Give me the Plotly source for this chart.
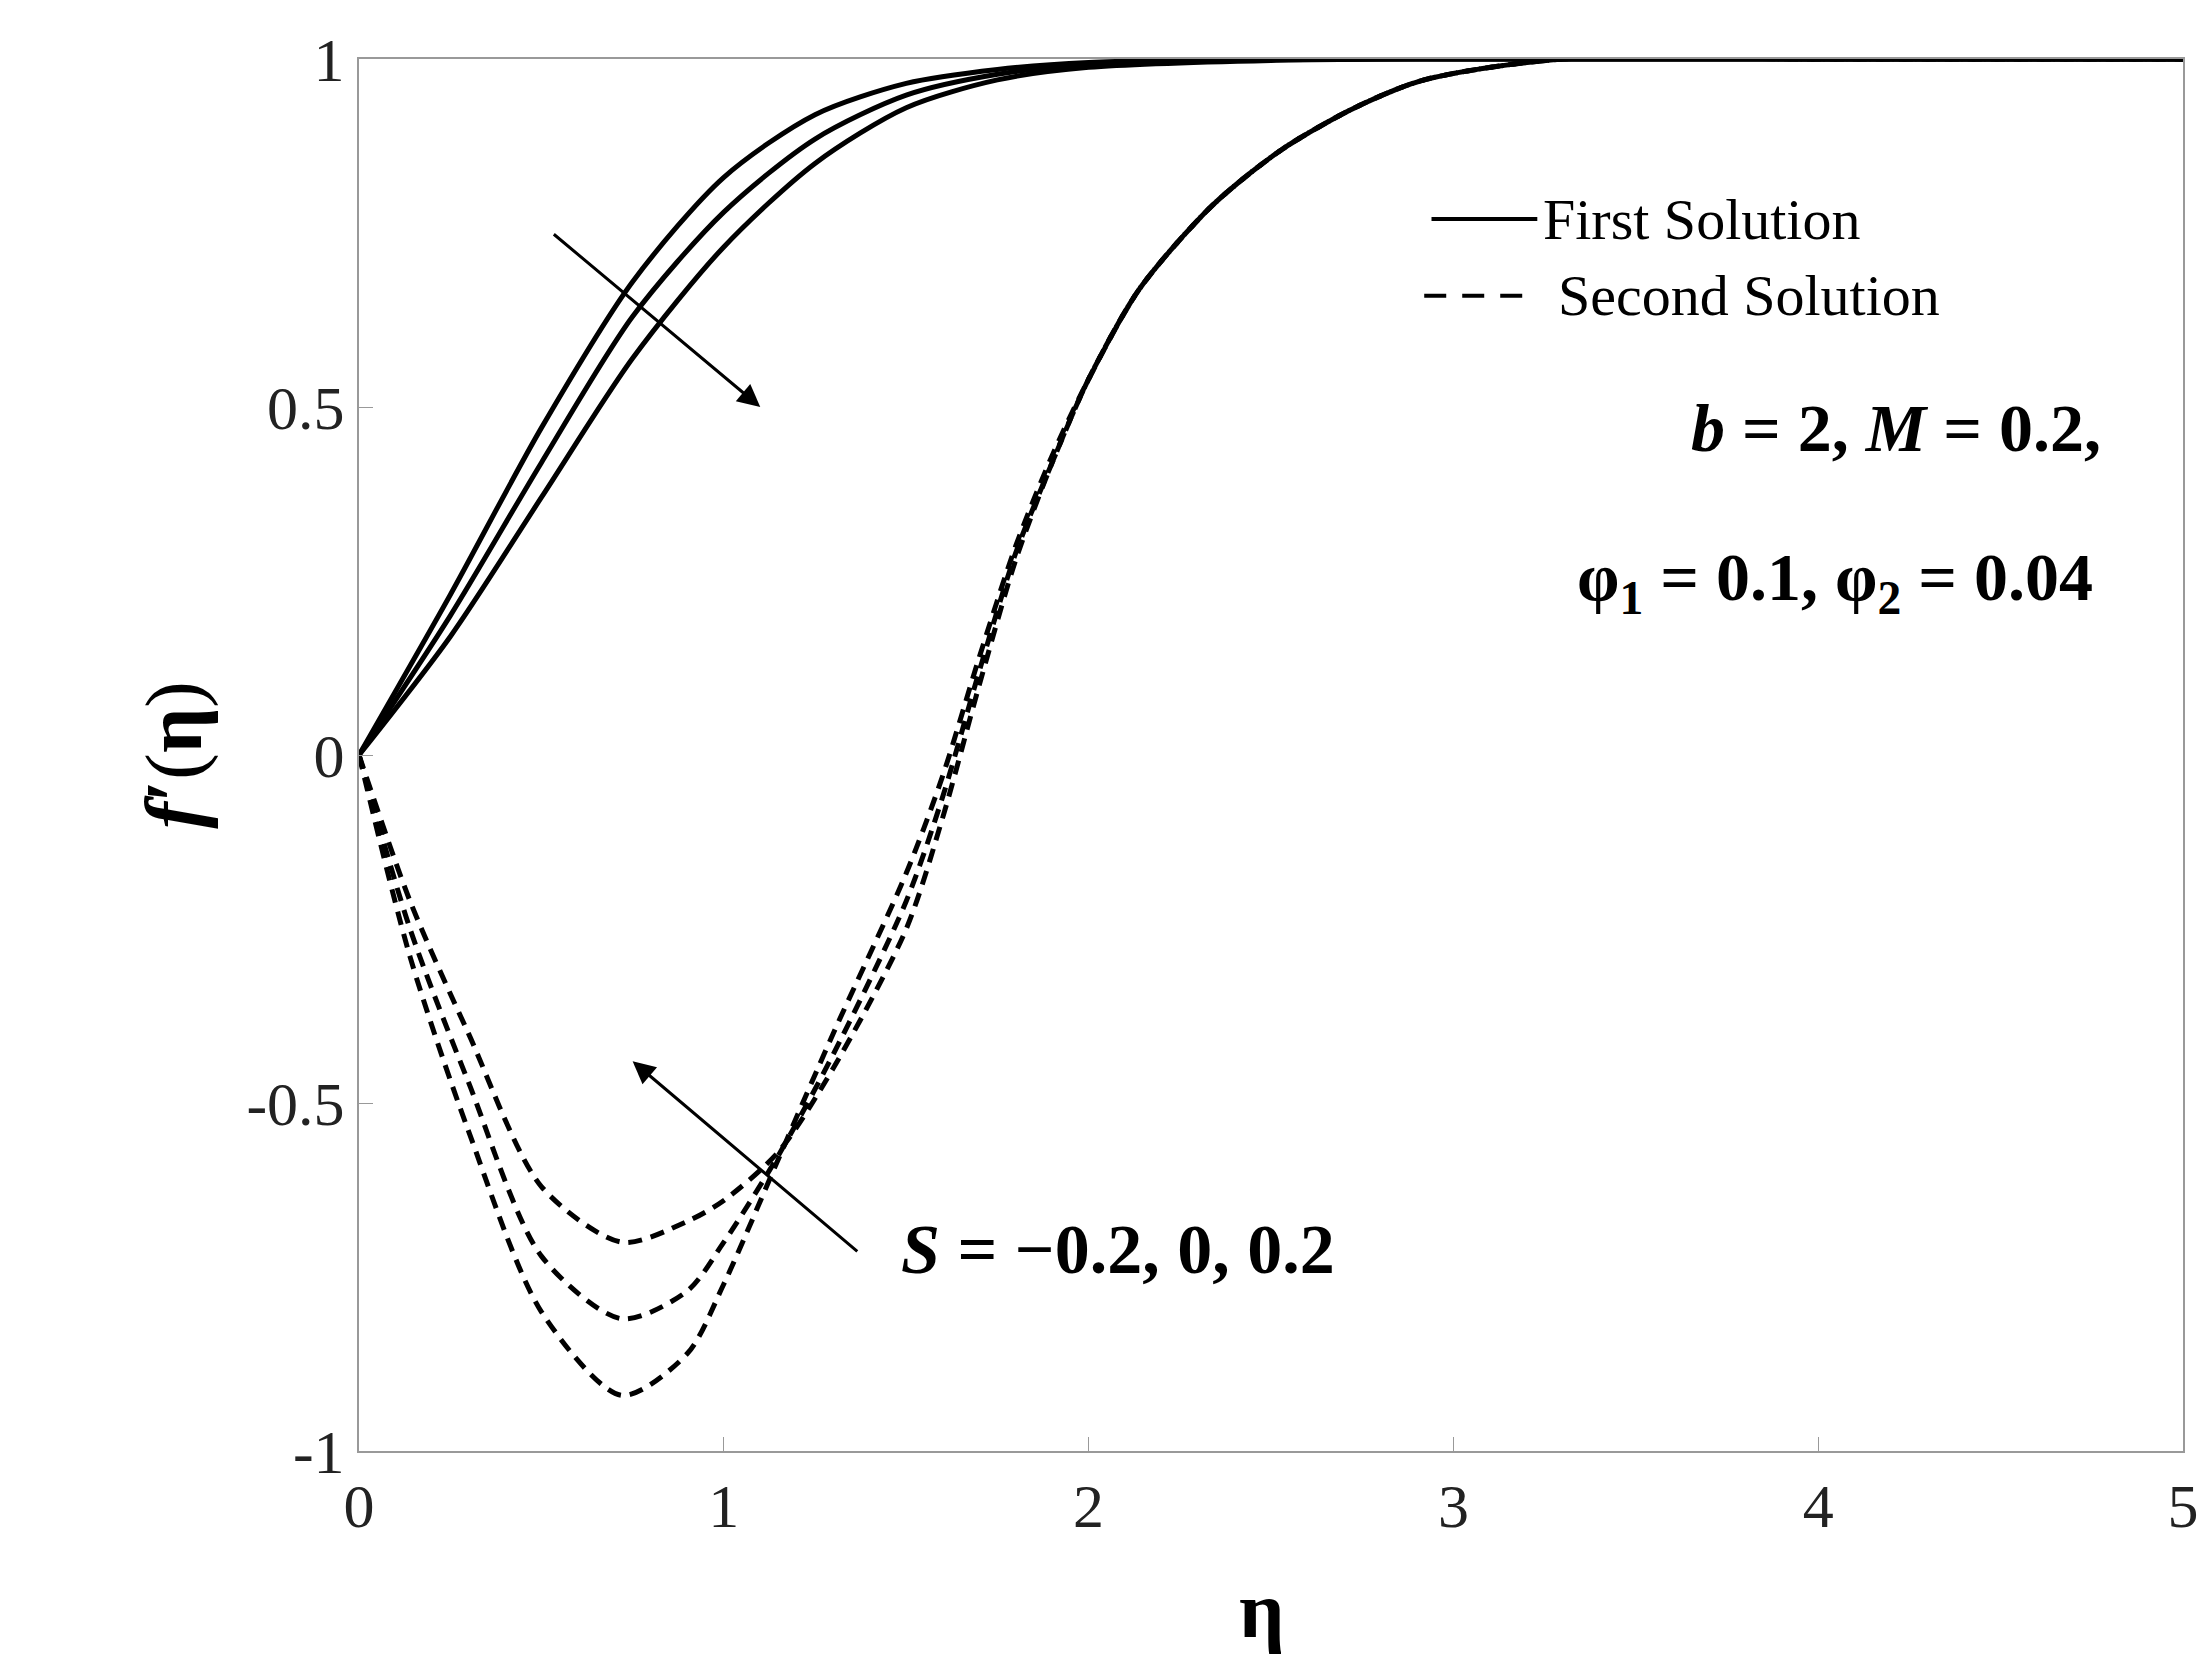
import plotly.graph_objects as go

eta1 = [0, 0.25, 0.5, 0.75, 1.0, 1.25, 1.5, 1.75, 2.0, 2.5, 3.0, 4.0, 5.0]
first_a = [0, 0.23, 0.47, 0.68, 0.83, 0.92, 0.965, 0.985, 0.995, 1.0, 1.0, 1.0, 1.0]
first_b = [0, 0.20, 0.42, 0.63, 0.78, 0.885, 0.948, 0.978, 0.992, 0.999, 1.0, 1.0, 1.0]
first_c = [0, 0.17, 0.37, 0.57, 0.73, 0.85, 0.93, 0.97, 0.988, 0.998, 1.0, 1.0, 1.0]

eta2 = [0, 0.14, 0.3, 0.5, 0.72, 0.9, 1.0, 1.15, 1.3, 1.5, 1.6, 1.7, 1.8, 1.9, 2.0, 2.14, 2.34, 2.53, 2.73, 2.92, 3.3, 4.0, 5.0]
second_a = [0, -0.29, -0.54, -0.80, -0.92, -0.86, -0.76, -0.58, -0.40, -0.17, -0.03, 0.14, 0.30, 0.43, 0.54, 0.67, 0.79, 0.87, 0.93, 0.97, 1.0, 1.0, 1.0]
second_b = [0, -0.25, -0.47, -0.72, -0.81, -0.77, -0.70, -0.575, -0.43, -0.21, -0.06, 0.12, 0.29, 0.42, 0.54, 0.67, 0.79, 0.87, 0.93, 0.97, 1.0, 1.0, 1.0]
second_c = [0, -0.21, -0.40, -0.62, -0.70, -0.67, -0.64, -0.57, -0.45, -0.25, -0.09, 0.10, 0.28, 0.42, 0.54, 0.67, 0.79, 0.87, 0.93, 0.97, 1.0, 1.0, 1.0]

xticks = [0, 1, 2, 3, 4, 5]
yticks = [-1, -0.5, 0, 0.5, 1]
ytick_text = ["-1", "-0.5", "0", "0.5", "1"]

fig = go.Figure()
for y in [first_a, first_b, first_c]:
    fig.add_trace(go.Scatter(x=eta1, y=y, mode="lines", line=dict(color="black", width=5, shape="spline", smoothing=0.8), showlegend=False))
for y in [second_a, second_b, second_c]:
    fig.add_trace(go.Scatter(x=eta2, y=y, mode="lines", line=dict(color="black", width=5, dash="14px,9px", shape="spline", smoothing=0.8), showlegend=False))

FONT = "Liberation Serif"
fig.add_shape(type="line", x0=2.94, x1=3.23, y0=0.77, y1=0.77, line=dict(color="black", width=4))
fig.add_shape(type="line", x0=2.92, x1=3.2, y0=0.66, y1=0.66, line=dict(color="black", width=4, dash="22px,16px"))
fig.add_annotation(x=3.24, y=0.77, text="First Solution", showarrow=False, xanchor="left", font=dict(family=FONT, size=58, color="black"))
fig.add_annotation(x=3.28, y=0.66, text="Second Solution", showarrow=False, xanchor="left", font=dict(family=FONT, size=58, color="black"))
fig.add_annotation(x=4.78, y=0.47, text="<b><i>b</i> = 2, <i>M</i> = 0.2,</b>", showarrow=False, xanchor="right", font=dict(family=FONT, size=68, color="black"))
fig.add_annotation(x=4.76, y=0.25, text="<b>φ<sub>1</sub> = 0.1, φ<sub>2</sub> = 0.04</b>", showarrow=False, xanchor="right", font=dict(family=FONT, size=68, color="black"))
fig.add_annotation(x=1.48, y=-0.71, text="<b><i>S</i> = −0.2, 0, 0.2</b>", showarrow=False, xanchor="left", font=dict(family=FONT, size=70, color="black"))
fig.add_annotation(x=1.1, y=0.5, ax=0.53, ay=0.75, axref="x", ayref="y", xref="x", yref="y", text="", showarrow=True, arrowhead=2, arrowsize=1.5, arrowwidth=3, arrowcolor="black")
fig.add_annotation(x=0.75, y=-0.44, ax=1.37, ay=-0.715, axref="x", ayref="y", xref="x", yref="y", text="", showarrow=True, arrowhead=2, arrowsize=1.5, arrowwidth=3, arrowcolor="black")
fig.add_annotation(xref="paper", yref="paper", x=0.495, y=-0.114, text="<b>η</b>", showarrow=False, yanchor="middle", font=dict(family=FONT, size=80, color="black"))
fig.add_annotation(xref="paper", yref="paper", x=-0.127, y=0.5, text="<b><i>f</i>′</b>(<b>η</b>)", showarrow=False, textangle=-90, font=dict(family=FONT, size=80, color="black"))

axis_common = dict(showgrid=False, zeroline=False, showline=True, mirror=True, linecolor="#999999", linewidth=2,
                   ticks="inside", ticklen=14, tickcolor="#999999", tickfont=dict(family=FONT, size=62, color="#222222"))
fig.update_xaxes(range=[0, 5], tickvals=xticks, **axis_common)
fig.update_yaxes(range=[-1, 1], tickvals=yticks, ticktext=ytick_text, **axis_common)
fig.update_layout(width=2211, height=1675, plot_bgcolor="white", paper_bgcolor="white",
                  margin=dict(l=351, r=36, t=51, b=232))
fig.write_html("out.html")
